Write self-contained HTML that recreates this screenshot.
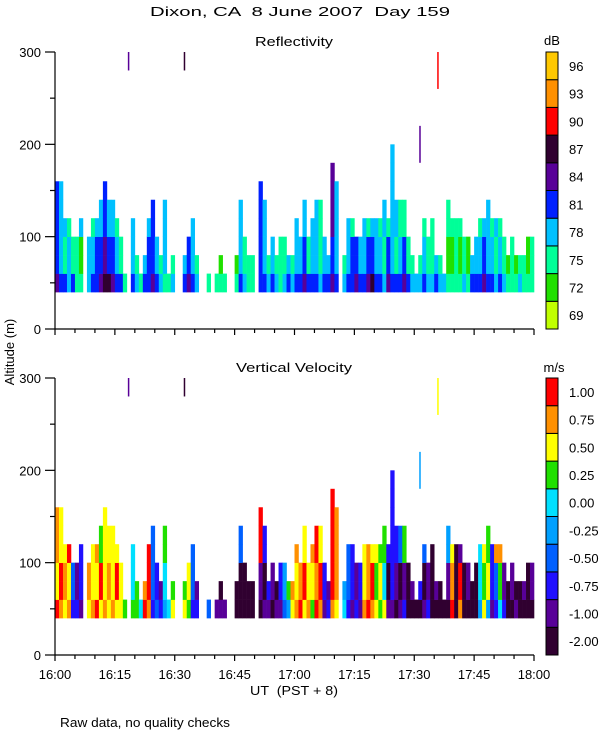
<!DOCTYPE html>
<html><head><meta charset="utf-8">
<style>
html,body{margin:0;padding:0;background:#fff;}
svg{display:block;font-family:"Liberation Sans",sans-serif;}
text{font-size:13px;fill:#000;white-space:pre;}
</style></head>
<body>
<svg id="chart" width="600" height="750" viewBox="0 0 600 750" xmlns="http://www.w3.org/2000/svg">
<rect width="600" height="750" fill="#fff"/>
<text x="150" y="16" font-size="16" textLength="300" lengthAdjust="spacingAndGlyphs" xml:space="preserve">Dixon, CA  8 June 2007  Day 159</text>
<text x="255" y="46" font-size="15" textLength="78" lengthAdjust="spacingAndGlyphs">Reflectivity</text>
<text x="236" y="372" font-size="15" textLength="116" lengthAdjust="spacingAndGlyphs">Vertical Velocity</text>
<text transform="translate(14,352) rotate(-90)" text-anchor="middle" font-size="14">Altitude (m)</text>
<text x="250" y="695" font-size="14" textLength="88" lengthAdjust="spacingAndGlyphs" xml:space="preserve">UT  (PST + 8)</text>
<text x="60" y="727" font-size="13" textLength="170" lengthAdjust="spacingAndGlyphs">Raw data, no quality checks</text>
<text x="552" y="45" text-anchor="middle" font-size="14">dB</text>
<text x="554" y="372" text-anchor="middle" font-size="14">m/s</text>
<g id="layer"></g>
</svg>
<script>
// 1-minute columns from 16:00
const colTop = [160,150,120,120,100,100,120,0,100,120,120,140,160,140,140,120,100,60,0,120,80,60,80,120,140,100,80,140,60,80,0,0,80,100,120,80,0,0,60,0,60,80,60,0,0,80,140,100,80,80,0,160,140,80,100,80,100,100,80,80,120,100,140,100,120,140,140,100,80,180,160,0,80,120,120,100,100,120,120,120,120,120,140,120,200,140,140,140,100,80,60,80,120,100,120,80,80,60,140,120,120,120,100,100,80,100,120,120,140,120,120,120,100,80,100,80,80,80,100,100];
const reflLow = [5,4,4,3,4,2,2,0,3,4,4,5,6,6,5,4,4,2,0,4,3,2,4,4,5,4,3,2,2,3,0,0,4,5,4,3,0,0,2,0,2,2,2,0,0,2,4,3,2,2,0,4,4,3,4,3,2,3,4,3,4,4,5,4,4,4,3,4,4,5,4,0,3,4,4,5,4,4,5,6,4,4,3,5,4,4,4,5,4,3,3,3,4,3,3,4,3,3,2,2,2,2,3,2,4,4,4,5,4,4,3,4,3,2,2,2,3,2,2,2];
const reflMid = [4,3,2,3,2,2,1,0,3,3,4,4,5,4,4,3,2,2,0,3,2,2,3,4,4,3,2,3,2,2,0,0,3,4,3,2,0,0,2,0,2,1,2,0,0,1,3,2,2,2,0,4,3,2,3,2,2,2,3,2,3,3,4,2,3,3,2,3,3,4,3,0,2,3,4,4,3,3,4,4,3,3,2,4,3,2,3,4,2,2,2,2,3,2,2,3,2,2,1,1,2,1,2,1,3,3,3,4,3,3,2,3,2,1,2,1,2,2,1,2];
const reflHigh = [4,3,3,2,3,2,3,0,3,2,3,3,4,3,3,2,3,2,0,3,3,2,2,3,4,2,2,3,2,2,0,0,2,3,3,2,0,0,3,0,2,2,2,0,0,2,3,2,2,2,0,4,3,2,2,3,2,2,2,3,3,2,3,2,3,3,2,3,2,5,3,0,2,3,2,3,2,3,2,3,3,2,3,2,3,3,2,2,3,3,2,3,2,3,2,2,2,3,2,2,2,2,2,2,3,3,2,3,3,2,3,2,3,2,3,2,2,2,2,2];
const velLow = [9,8,7,8,2,2,1,0,7,8,9,7,8,7,8,7,7,6,0,6,6,5,9,8,2,3,2,4,5,7,0,0,7,6,2,2,0,0,3,0,1,1,1,0,0,0,0,0,0,0,0,0,1,1,0,1,1,3,4,7,8,9,7,8,6,9,8,1,2,8,7,0,5,2,1,2,1,8,9,8,7,6,7,1,1,0,1,2,0,0,0,0,1,2,0,0,0,0,0,9,0,8,0,0,0,0,4,7,4,1,2,5,2,0,0,1,0,0,0,0];
const velMid = [7,9,8,7,3,1,2,0,8,7,7,9,7,8,7,9,7,5,0,5,6,6,8,9,3,2,1,5,6,6,0,0,6,7,3,1,0,0,2,0,1,0,2,0,0,0,0,0,0,0,0,1,0,2,1,0,2,4,6,8,7,8,9,7,7,8,9,2,1,9,8,0,4,3,2,1,2,7,8,9,6,7,5,0,2,1,0,1,0,1,0,2,0,1,0,1,0,0,1,8,0,9,0,1,0,0,5,6,7,2,3,6,1,0,1,0,0,1,0,1];
const velHigh = [8,7,7,9,3,3,2,0,7,7,8,6,7,7,7,7,7,6,0,5,5,6,9,9,3,3,3,6,6,7,0,0,7,7,3,3,0,0,3,0,2,2,1,0,0,0,3,0,0,0,0,9,2,1,1,1,2,4,7,7,8,8,7,7,8,9,7,2,3,9,8,0,6,3,2,3,2,7,8,7,7,6,6,2,2,2,3,6,0,1,0,1,3,4,0,0,1,0,4,7,0,1,0,0,0,0,5,7,6,2,8,8,7,1,1,2,1,1,0,1];
// isolated spikes (minutes, altitude range m, class index)
const spikeTime = [18.25,32.25,91.25,95.75];
const spikeLow = [280,280,180,260];
const spikeHigh = [300,300,220,300];
const spikeRefl = [5,6,5,7];
const spikeVel = [1,0,4,7];
const reflTicks = ["69","72","75","78","81","84","87","90","93","96"];
const velTicks = ["-2.00","-1.00","-0.75","-0.50","-0.25","0.00","0.25","0.50","0.75","1.00"];
const timeLabels = ["16:00","16:15","16:30","16:45","17:00","17:15","17:30","17:45","18:00"];
const altTicks = [0,100,200,300];

const reflColors = ["#c0ff00","#20e000","#00ff98","#00c0ff","#0020ff","#580098","#300030","#ff0000","#ff9000","#ffc800"];
const velColors = ["#300030","#580098","#2010ff","#0060ff","#00a0ff","#00e0ff","#20e000","#ffff00","#ff9000","#ff0000"];

const NS="http://www.w3.org/2000/svg";
const layer=document.getElementById('layer');
const X0=55,X1=534,TMAX=120;
function xs(t){return X0+(t/TMAX)*(X1-X0);}
function mk(tag,attrs,parent){const e=document.createElementNS(NS,tag);for(const k in attrs)e.setAttribute(k,attrs[k]);(parent||layer).appendChild(e);return e;}

function panel(name,yTop,yBot,lowArr,midArr,highArr,spikeC,colors,ticks){
  const ys=a=>yBot-(a/300)*(yBot-yTop);
  const g=mk('g',{});
  
  
  const cw=(X1-X0)/TMAX;
  for(let c=0;c<colTop.length;c++){
    const top=colTop[c]; if(!top) continue;
    for(let a=40;a<top;a+=20){
      const v=(a<60)?lowArr[c]:(a<100?midArr[c]:highArr[c]);
      const r=mk('rect',{x:xs(c),y:ys(a+20),width:cw+0.3,height:ys(a)-ys(a+20)+0.3,fill:colors[v]},g);
      
      
    }
  }
  for(let i=0;i<spikeTime.length;i++){
    const r=mk('rect',{x:xs(spikeTime[i]),y:ys(spikeHigh[i]),width:1.5,height:ys(spikeLow[i])-ys(spikeHigh[i]),fill:colors[spikeC[i]]},g);
    
    
  }
  const ax=mk('g',{stroke:'#000','stroke-width':1.2,fill:'none'});
  
  
  mk('line',{x1:X0,y1:yTop,x2:X0,y2:yBot},ax);
  mk('line',{x1:X0,y1:yBot,x2:X1,y2:yBot},ax);
  for(let t=0;t<=TMAX;t+=5){
    const maj=t%15===0;
    mk('line',{x1:xs(t),y1:yBot,x2:xs(t),y2:yBot+(maj?6:4)},ax);
  }
  for(let a=0;a<=300;a+=50){
    const maj=a%100===0;
    mk('line',{x1:X0,y1:ys(a),x2:X0-(maj?10:5),y2:ys(a)},ax);
  }
  altTicks.forEach(a=>{
    const t=mk('text',{x:X0-14,y:ys(a)+5,'text-anchor':'end'});
    t.textContent=a;
    
    
  });
  const cb=mk('g',{});
  
  
  const n=colors.length,h=(yBot-yTop)/n;
  for(let i=0;i<n;i++){
    const yy=yBot-(i+1)*h;
    const r=mk('rect',{x:546,y:yy,width:12,height:h,fill:colors[i],stroke:'#000','stroke-width':1},cb);
    
    
    const t=mk('text',{x:569,y:yy+h/2+5,'font-size':14},cb);
    t.textContent=ticks[i];
    
    
  }
}
panel('reflectivity',52,329,reflLow,reflMid,reflHigh,spikeRefl,reflColors,reflTicks);
panel('velocity',378,655,velLow,velMid,velHigh,spikeVel,velColors,velTicks);
timeLabels.forEach((s,i)=>{
  const t=mk('text',{x:xs(i*15),y:679,'text-anchor':'middle','font-size':14});
  t.textContent=s;
  
  
});
</script>
</body></html>
